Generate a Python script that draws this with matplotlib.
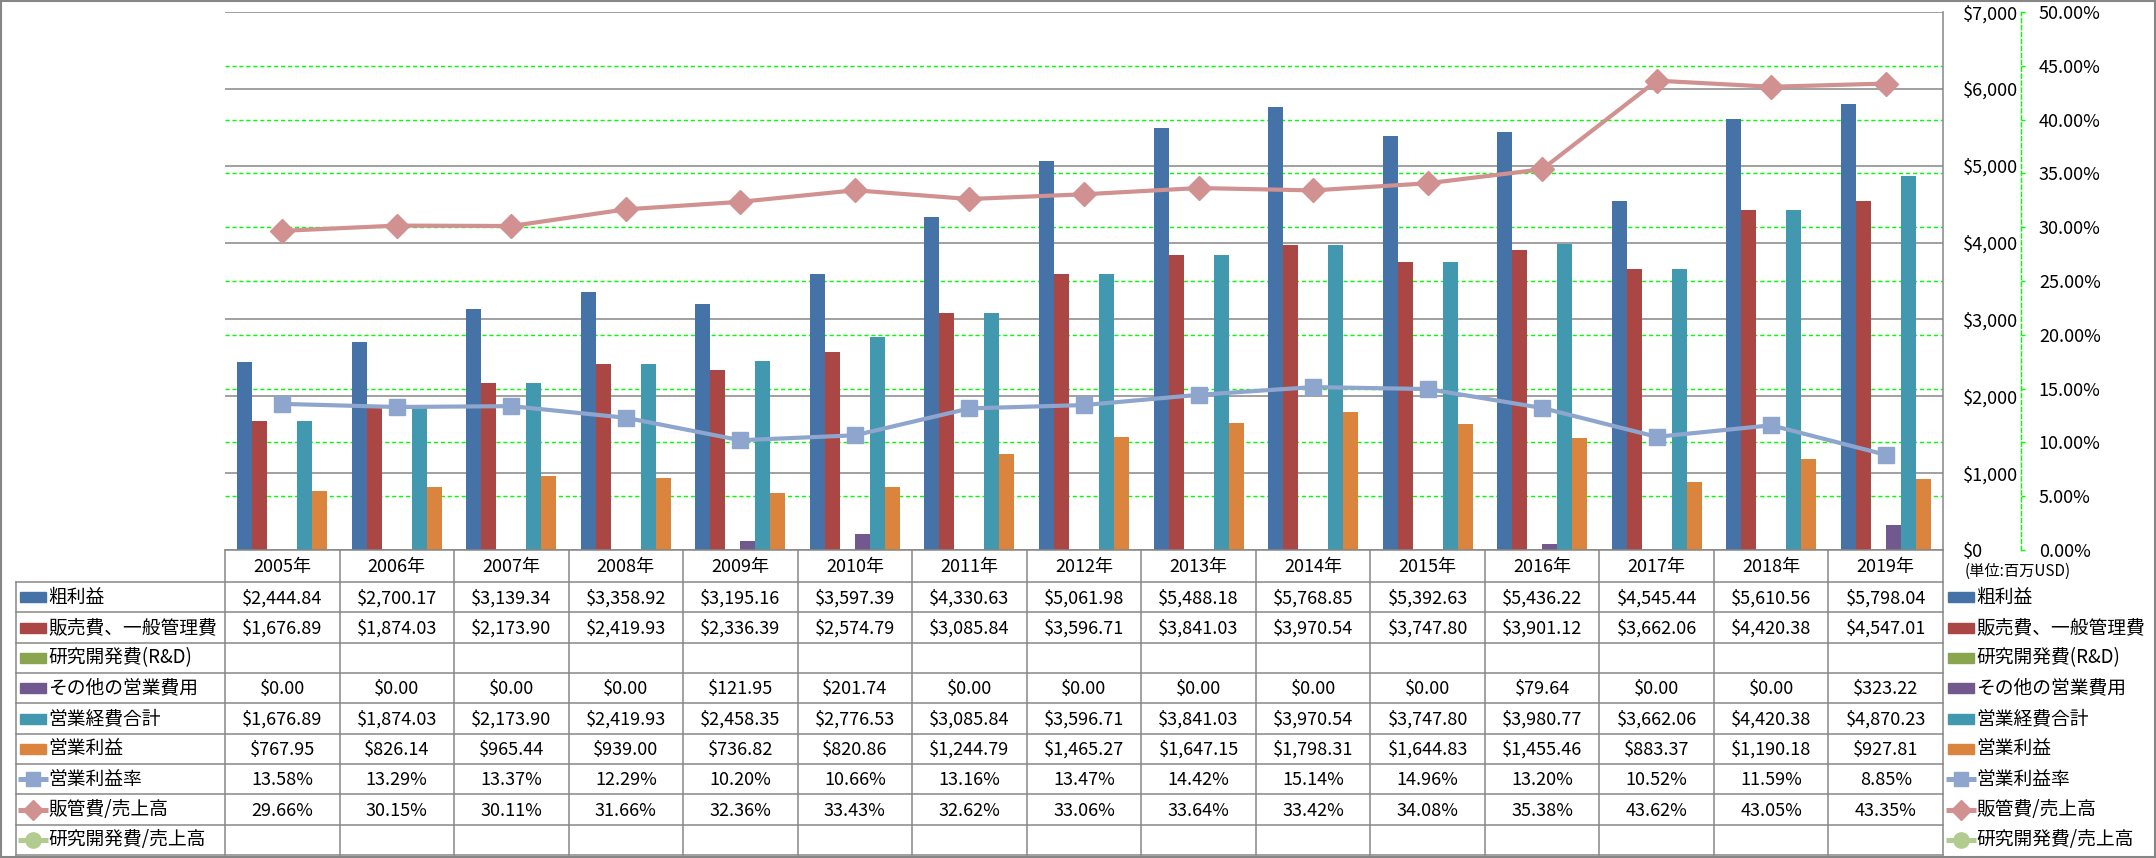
import numpy as np
import matplotlib
matplotlib.use("Agg")
import matplotlib.pyplot as plt
from matplotlib.patches import Rectangle
from matplotlib.ticker import FuncFormatter, MultipleLocator

plt.rcParams['font.family'] = ['Noto Sans CJK JP', 'DejaVu Sans']

# ---- data (単位: 百万USD) ----
years = ['2005年', '2006年', '2007年', '2008年', '2009年', '2010年', '2011年', '2012年',
         '2013年', '2014年', '2015年', '2016年', '2017年', '2018年', '2019年']
gross_profit = [2444.84, 2700.17, 3139.34, 3358.92, 3195.16, 3597.39, 4330.63, 5061.98,
                5488.18, 5768.85, 5392.63, 5436.22, 4545.44, 5610.56, 5798.04]
sga = [1676.89, 1874.03, 2173.90, 2419.93, 2336.39, 2574.79, 3085.84, 3596.71,
       3841.03, 3970.54, 3747.80, 3901.12, 3662.06, 4420.38, 4547.01]
rnd = [None] * 15
other_opex = [0.00, 0.00, 0.00, 0.00, 121.95, 201.74, 0.00, 0.00,
              0.00, 0.00, 0.00, 79.64, 0.00, 0.00, 323.22]
total_opex = [1676.89, 1874.03, 2173.90, 2419.93, 2458.35, 2776.53, 3085.84, 3596.71,
              3841.03, 3970.54, 3747.80, 3980.77, 3662.06, 4420.38, 4870.23]
op_income = [767.95, 826.14, 965.44, 939.00, 736.82, 820.86, 1244.79, 1465.27,
             1647.15, 1798.31, 1644.83, 1455.46, 883.37, 1190.18, 927.81]
op_margin = [13.58, 13.29, 13.37, 12.29, 10.20, 10.66, 13.16, 13.47,
             14.42, 15.14, 14.96, 13.20, 10.52, 11.59, 8.85]
sga_ratio = [29.66, 30.15, 30.11, 31.66, 32.36, 33.43, 32.62, 33.06,
             33.64, 33.42, 34.08, 35.38, 43.62, 43.05, 43.35]
rnd_ratio = [None] * 15

bar_series = [
    ('粗利益', gross_profit, '#4572A7'),
    ('販売費、一般管理費', sga, '#AA4643'),
    ('研究開発費(R&D)', rnd, '#89A54E'),
    ('その他の営業費用', other_opex, '#71588F'),
    ('営業経費合計', total_opex, '#4198AF'),
    ('営業利益', op_income, '#DB843D'),
]
line_series = [
    ('営業利益率', op_margin, '#8EA6CE', 's'),
    ('販管費/売上高', sga_ratio, '#D19190', 'D'),
    ('研究開発費/売上高', rnd_ratio, '#B2CB8E', 'o'),
]

W, H = 2156, 858
fig = plt.figure(figsize=(W / 100, H / 100), dpi=100)

# overlay in pixel coordinates for the data table and border
tab = fig.add_axes([0, 0, 1, 1])
tab.set_xlim(0, W)
tab.set_ylim(H, 0)
tab.axis('off')

PL, PR, PT, PB = 225, 1943, 12, 550
ax = fig.add_axes([PL / W, (H - PB) / H, (PR - PL) / W, (PB - PT) / H])
x = np.arange(len(years))
n = len(bar_series)
bw = 0.131
for i, (name, vals, col) in enumerate(bar_series):
    v = np.array([np.nan if a is None else a for a in vals], dtype=float)
    ax.bar(x + (i - (n - 1) / 2) * bw, v, width=bw, color=col, zorder=2)

ax.set_xlim(-0.5, len(years) - 0.5)
ax.set_ylim(0, 7000)
ax.yaxis.set_major_locator(MultipleLocator(1000))
ax.yaxis.set_major_formatter(FuncFormatter(lambda v, p: f'${v:,.0f}'))
ax.set_xticks([])
ax.grid(axis='y', color='#868686', lw=1.1, zorder=1)
ax.set_axisbelow(True)
ax.spines['left'].set_visible(False)
ax.spines['top'].set_visible(False)
for s in ('right', 'bottom'):
    ax.spines[s].set_color('#868686')
    ax.spines[s].set_linewidth(1.1)

ax2 = ax.twinx()
# twinx moves the primary ticks to the left, put them back on the right
ax.yaxis.tick_right()
ax.tick_params(axis='y', length=0, pad=14, labelsize=13)

ax2.set_ylim(0, 50)
ax2.yaxis.set_major_locator(MultipleLocator(5))
ax2.yaxis.set_major_formatter(FuncFormatter(lambda v, p: f'{v:.2f}%'))
for s in ('left', 'top', 'bottom'):
    ax2.spines[s].set_visible(False)
ax2.spines['right'].set_position(('outward', 56))
ax2.spines['right'].set_color('#00FF00')
ax2.spines['right'].set_linestyle((0, (3, 2)))
ax2.spines['right'].set_linewidth(1.0)
ax2.tick_params(axis='y', color='#00FF00', length=3, width=1, pad=10, labelsize=13)

# secondary-axis gridlines, drawn behind the bars
ratio = ax.get_ylim()[1] / ax2.get_ylim()[1]
for t in ax2.get_yticks():
    if 0 < t < ax2.get_ylim()[1]:
        ax.axhline(t * ratio, color='#00FF00', lw=1.0, ls=(0, (3, 2)), zorder=1)

for name, vals, col, mk in line_series:
    v = np.array([np.nan if a is None else a for a in vals], dtype=float)
    ax2.plot(x, v, color=col, lw=3.0, marker=mk, ms=12, mfc=col, mec=col, zorder=3)

# ---- data table ----
x0, x1 = PL, PR
colw = (x1 - x0) / len(years)
hdr_top, row0, tb_bot = PB, 582, 855
rh = (tb_bot - row0) / 9
grid_c = '#878787'
lw_t = 1.1

for k in range(len(years) + 1):
    tab.plot([x0 + k * colw] * 2, [hdr_top, tb_bot], color=grid_c, lw=lw_t)
tab.plot([16, 16], [row0, tb_bot], color=grid_c, lw=lw_t)
for r in range(10):
    y = row0 + r * rh
    tab.plot([16, x1], [y, y], color=grid_c, lw=lw_t)

for i, yr in enumerate(years):
    tab.text(x0 + (i + 0.5) * colw, (hdr_top + row0) / 2 + 1, yr,
             ha='center', va='center', fontsize=13)

rows = [(nm, vals, col, None, '${:,.2f}') for nm, vals, col in bar_series] + \
       [(nm, vals, col, mk, '{:.2f}%') for nm, vals, col, mk in line_series]


def draw_key(xk, yc, col, mk):
    if mk is None:
        tab.add_patch(Rectangle((xk, yc - 5), 26, 10, color=col))
    else:
        tab.plot([xk - 2, xk + 28], [yc, yc], color=col, lw=3.6,
                 solid_capstyle='butt')
        tab.plot([xk + 13], [yc], marker=mk, ms=10 if mk != 'o' else 11,
                 color=col, mec=col)


for r, (nm, vals, col, mk, fmt) in enumerate(rows):
    yc = row0 + (r + 0.5) * rh
    draw_key(20, yc, col, mk)
    tab.text(48, yc, nm, ha='left', va='center', fontsize=13.5)
    draw_key(1948, yc, col, mk)
    tab.text(1976, yc, nm, ha='left', va='center', fontsize=13.5)
    for i, v in enumerate(vals):
        if v is None:
            continue
        tab.text(x0 + (i + 0.5) * colw, yc + 1, fmt.format(v),
                 ha='center', va='center', fontsize=13)

tab.text(2018, 571, '(単位:百万USD)', ha='center', va='center', fontsize=11)
tab.add_patch(Rectangle((1, 1), W - 2.5, H - 2.5, fill=False,
                        ec='#868686', lw=1.5, clip_on=False))

fig.savefig('out.png', dpi=100)
